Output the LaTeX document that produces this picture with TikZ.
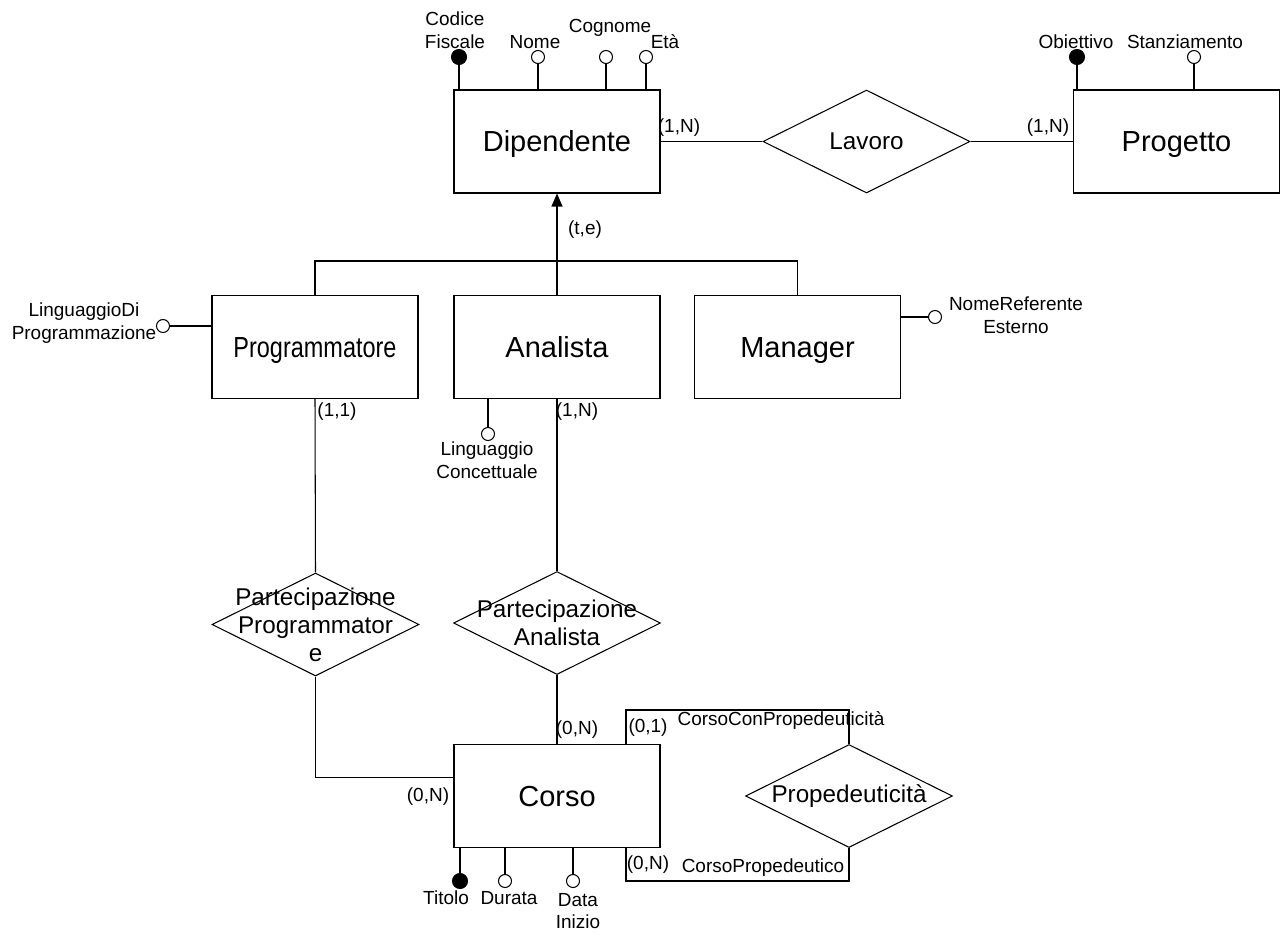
\documentclass[tikz,border=0pt]{standalone}
\usepackage{fontspec}
\usepackage{graphicx}
\setmainfont{Liberation Sans}
\usetikzlibrary{arrows.meta,shapes.geometric}

\begin{document}
\begin{tikzpicture}[
  x=0.02cm, y=-0.02cm, line width=0.6pt, >={Triangle[length=0.26cm,width=0.22cm]},
  entity/.style={rectangle, draw=black, minimum width=4.12cm, minimum height=2.06cm, inner sep=0pt, text height=11.8pt, text depth=0pt, font=\fontsize{16.5}{19}\selectfont},
  relship/.style={diamond, draw=black, aspect=2, minimum width=4.14cm, minimum height=2.06cm, inner sep=0pt},
  reltext/.style={align=center, inner sep=0pt, font=\fontsize{13.8}{16}\selectfont},
  attr/.style={circle, draw=black, fill=white, minimum size=0.26cm, inner sep=0pt},
  key/.style={attr, fill=black, minimum size=0.3cm},
  lbl/.style={align=center, inner sep=0pt, font=\fontsize{10.8}{13}\selectfont}
]
\useasboundingbox (0,0) rectangle (1281,934);

\node[entity] (dip) at (557,141.5) {Dipendente};
\node[relship] (lav) at (866.5,141.5) {};
\node[reltext] (lav-t) at (lav) {Lavoro};
\node[entity] (prg) at (1176.5,141.5) {Progetto};

\node[entity] (prog) at (315,347) {\scalebox{0.81}[1]{Programmatore}};
\node[entity] (ana) at (557,347) {Analista};
\node[entity] (man) at (797.5,347) {Manager};

\node[relship] (pp) at (315.5,624.5) {};
\node[reltext] (pp-t) at (pp) {Partecipazione\\Programmator\\e};
\node[relship] (pa) at (557,623) {};
\node[reltext] (pa-t) at (pa) {Partecipazione\\Analista};

\node[entity] (corso) at (557,796) {Corso};
\node[relship] (prop) at (849,796) {};
\node[reltext] (prop-t) at (prop) {Propedeuticità};

\node[key] (cf) at (459,57) {};
\node[attr] (nome) at (538,57) {};
\node[attr] (cogn) at (606,57) {};
\node[attr] (eta) at (646,57) {};
\node[lbl] (cf-l) at (455,30) {Codice\\Fiscale};
\node[lbl] (nome-l) at (535,42) {Nome};
\node[lbl] (cogn-l) at (610,28) {Cognome};
\node[lbl] (eta-l) at (665,42) {Età};

\node[key] (obi) at (1077,57) {};
\node[attr] (stz) at (1194,57) {};
\node[lbl] (obi-l) at (1076,42) {Obiettivo};
\node[lbl] (stz-l) at (1185,42) {Stanziamento};

\node[attr] (ldp) at (163,326) {};
\node[lbl] (ldp-l) at (84,323) {LinguaggioDi\\Programmazione};
\node[attr] (nre) at (935,317) {};
\node[lbl] (nre-l) at (1016,315) {NomeReferente\\Esterno};
\node[attr] (lc) at (488,434) {};
\node[lbl] (lc-l) at (487,460) {Linguaggio\\Concettuale};

\node[key] (tit) at (460,881) {};
\node[attr] (dur) at (505,881) {};
\node[attr] (din) at (573,881) {};
\node[lbl] (tit-l) at (446,898) {Titolo};
\node[lbl] (dur-l) at (509,898) {Durata};
\node[lbl] (din-l) at (578,911) {Data\\Inizio};

\node[lbl] (c1) at (679,128) {(1,N)};
\node[lbl] (c2) at (1048,128) {(1,N)};
\node[lbl] (te) at (585,230) {(t,e)};
\node[lbl] (c3) at (337,412) {(1,1)};
\node[lbl] (c4) at (577,412) {(1,N)};
\node[lbl] (c5) at (577,730) {(0,N)};
\node[lbl] (c6) at (428,797) {(0,N)};
\node[lbl] (c7) at (648,728) {(0,1)};
\node[lbl] (c8) at (648,865) {(0,N)};
\node[lbl] (ccp) at (781,720) {CorsoConPropedeuticità};
\node[lbl] (cpr) at (763,868) {CorsoPropedeutico};

\draw (dip) -- (lav);
\draw (lav) -- (prg);

\coordinate (isa) at (557,261);
\draw[->] (isa) -- (dip.south);
\draw (prog.north) |- (isa) -| (man.north);
\draw (ana.north) -- (isa);

\draw (prog.south) -- (pp.north);
\draw (ana.south) -- (pa.north);
\draw (pp.south) |- (corso.170);
\draw (pa.south) -- (corso.north);

\coordinate (cp1) at (626,710);
\coordinate (cp2) at (626,881);
\draw (prop.north) |- (cp1) -- (cp1 |- corso.north);
\draw (prop.south) |- (cp2) -- (cp2 |- corso.south);

\foreach \a in {cf,nome,cogn,eta} \draw (\a) -- (\a |- dip.north);
\foreach \a in {obi,stz} \draw (\a) -- (\a |- prg.north);
\draw (ldp) -- (ldp -| prog.west);
\draw (nre) -- (nre -| man.east);
\draw (lc) -- (lc |- ana.south);
\foreach \a in {tit,dur,din} \draw (\a) -- (\a |- corso.south);
\end{tikzpicture}
\end{document}
